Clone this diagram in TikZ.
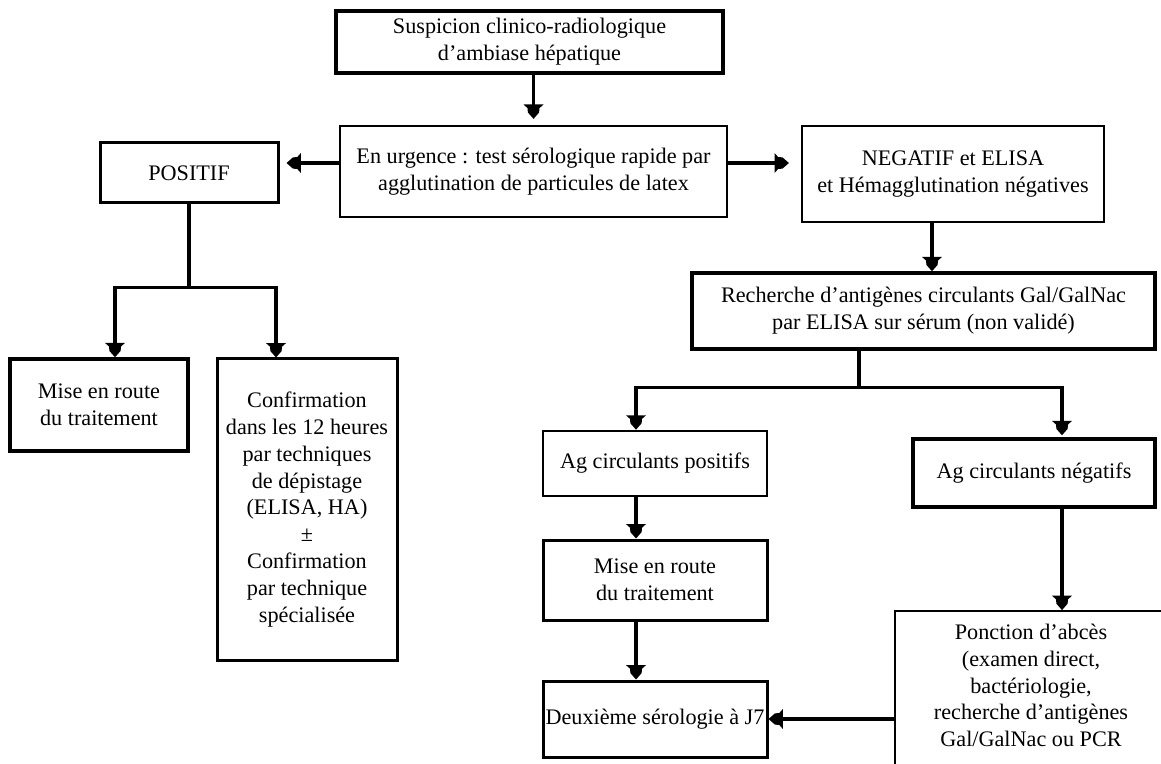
\documentclass[tikz,border=0pt]{standalone}
\usepackage{fontspec}
\setmainfont{Liberation Serif}
\pgfdeclarearrow{
  name = Shield,
  setup code = {
    \pgfarrowssettipend{0pt}
    \pgfarrowssetlineend{-4pt}
    \pgfarrowssetvisualbackend{-7.2pt}
    \pgfarrowssetbackend{-7.2pt}
    \pgfarrowshullpoint{0pt}{0pt}
    \pgfarrowsupperhullpoint{-7.2pt}{5pt}
  },
  drawing code = {
    \pgfpathmoveto{\pgfpointorigin}
    \pgfpathlineto{\pgfpoint{-3.2pt}{2.8pt}}
    \pgfpathlineto{\pgfpoint{-5.4pt}{3pt}}
    \pgfpathlineto{\pgfpoint{-7.2pt}{5pt}}
    \pgfpathlineto{\pgfpoint{-7.2pt}{-5pt}}
    \pgfpathlineto{\pgfpoint{-5.4pt}{-3pt}}
    \pgfpathlineto{\pgfpoint{-3.2pt}{-2.8pt}}
    \pgfpathclose
    \pgfusepathqfill
  }
}
\begin{document}
\begin{tikzpicture}[x=0.5pt,y=-0.5pt,
  every node/.style={inner sep=0pt, align=center, font=\fontsize{11.1}{13.4}\selectfont},
  box/.style={draw, rectangle, line width=1.7pt},
  thinbox/.style={draw, rectangle, line width=1.1pt},
  conn/.style={line width=1.7pt},
  arr/.style={line width=1.7pt, -Shield}]
\useasboundingbox (0,0) rectangle (1161,764);
\fill[white] (0,0) rectangle (1161,764);
\clip (0,0) rectangle (1161,764);

\node[box, minimum width=193.5pt, minimum height=31pt] (susp) at (529.5,42)
  {Suspicion clinico-radiologique\\d’ambiase hépatique};
\node[thinbox, minimum width=193.5pt, minimum height=45.5pt] (urg) at (533.5,171.5)
  {En urgence : test sérologique rapide par\\agglutination de particules de latex};
\node[box, line width=1.5pt, minimum width=89pt, minimum height=30pt] (pos) at (189,173)
  {POSITIF};
\node[thinbox, minimum width=151pt, minimum height=48pt] (neg) at (953,174)
  {NEGATIF et ELISA\\et Hémagglutination négatives};
\node[box, minimum width=89pt, minimum height=46pt] (mise1) at (99,405)
  {Mise en route\\du traitement};
\node[box, line width=1.5pt, minimum width=90pt, minimum height=150.5pt] (conf) at (307,509.5)
  {Confirmation\\dans les 12 heures\\par techniques\\de dépistage\\(ELISA, HA)\\±\\Confirmation\\par technique\\spécialisée};
\node[box, minimum width=231.5pt, minimum height=38pt] (rech) at (923.5,311)
  {Recherche d’antigènes circulants Gal/GalNac\\par ELISA sur sérum (non validé)};
\node[thinbox, line width=1.3pt, minimum width=112pt, minimum height=32.5pt] (agpos) at (655,463.5)
  {Ag circulants positifs};
\node[box, minimum width=121pt, minimum height=34pt] (agneg) at (1034,473)
  {Ag circulants négatifs};
\node[box, line width=1.5pt, minimum width=112pt, minimum height=40pt] (mise2) at (655,580)
  {Mise en route\\du traitement};
\node[box, line width=1.5pt, minimum width=112pt, minimum height=38pt] (deux) at (655,719)
  {Deuxième sérologie à J7};
\node[thinbox, line width=0.9pt, minimum width=136pt, minimum height=87pt] (ponc) at (1031,698) {};
\node (ponctxt) at (1031,685.5)
  {Ponction d’abcès\\(examen direct,\\bactériologie,\\recherche d’antigènes\\Gal/GalNac ou PCR};

% connectors
\draw[arr, shorten >=3pt] (urg.north |- susp.south) -- (urg.north);
\draw[arr, shorten >=3.5pt] ([yshift=4.25pt]urg.west) -- ([yshift=4.25pt]urg.west -| pos.east);
\draw[arr, shorten >=6pt] ([yshift=4.25pt]urg.east) -- ([yshift=4.25pt]urg.east -| neg.west);
\draw[conn] (pos.south) -- ++(0,83) coordinate (pj);
\draw[arr] (pj) -| ([xshift=8pt]mise1.north);
\draw[arr] (pj) -| ([xshift=-15.5pt]conf.north);
\draw[arr] ([xshift=-10.5pt]neg.south) -- ([xshift=-10.5pt]neg.south |- rech.north);
\draw[conn] ([xshift=-32.25pt]rech.south) -- ++(0,37) coordinate (rj);
\draw[arr] (rj) -| ([xshift=-9.5pt]agpos.north);
\draw[arr, shorten >=1pt] (rj) -| ([xshift=14pt]agneg.north);
\draw[arr] ([xshift=-9.5pt]agpos.south) -- ([xshift=-9.5pt]mise2.north);
\draw[arr] ([xshift=-9.5pt]mise2.south) -- ([xshift=-9.5pt]deux.north);
\draw[arr] ([xshift=14pt]agneg.south) -- ([xshift=14pt]agneg.south |- ponc.north);
\draw[arr] (ponc.west |- deux.east) -- (deux.east);
\end{tikzpicture}
\end{document}
